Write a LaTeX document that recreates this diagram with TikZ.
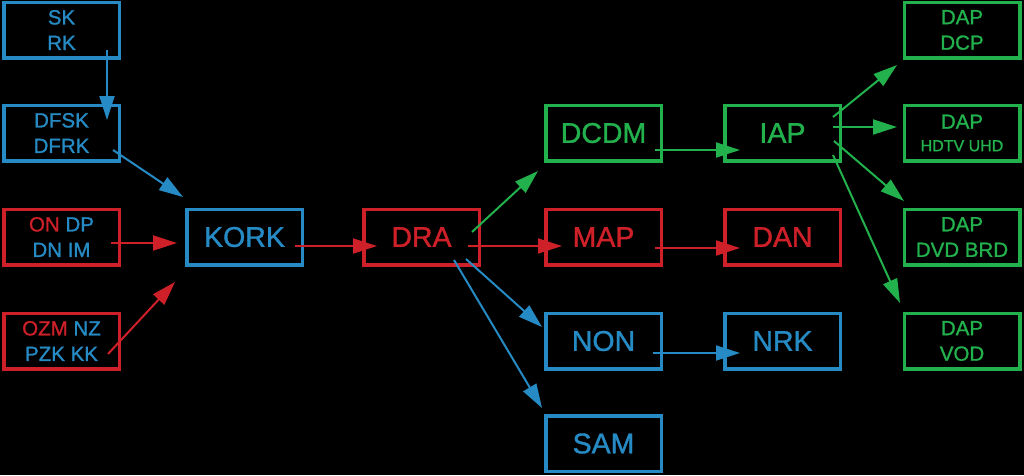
\documentclass[tikz,border=0pt]{standalone}
\usepackage{fontspec}
\setmainfont{Liberation Sans}[FakeBold=1.2]
\usetikzlibrary{arrows.meta,calc}
\definecolor{cblue}{RGB}{38,139,196}
\definecolor{cred}{RGB}{206,32,40}
\definecolor{cgreen}{RGB}{34,177,76}
\begin{document}
\begin{tikzpicture}[x=1pt,y=-1pt,
 box/.style={draw, line width=3.5pt, minimum width=115.5pt, minimum height=55.5pt, inner sep=0pt, align=center},
 big/.style={font=\fontsize{28.5}{30}\selectfont},
 small/.style={font=\fontsize{20.5}{25.5}\selectfont},
 conn/.style={line width=2pt, -{Triangle[length=24pt,width=15pt]}},
]
\fill[black] (0,0) rectangle (1024,475);
\useasboundingbox (0,0) rectangle (1024,475);
% column 1
\node[box,small,draw=cblue,text=cblue] (sk) at (61.5,30) {SK\\RK};
\node[box,small,draw=cblue,text=cblue] (dfsk) at (61.5,133) {DFSK\\DFRK};
\node[box,small,draw=cred,text=cblue] (ondp) at (61.5,237) {\textcolor{cred}{ON} DP\\DN IM};
\node[box,small,draw=cred,text=cblue] (ozm) at (61.5,341) {\textcolor{cred}{OZM} NZ\\PZK KK};
% column 2-5
\node[box,big,draw=cblue,text=cblue] (kork) at (244.5,237) {KORK};
\node[box,big,draw=cred,text=cred] (dra) at (421.5,237) {DRA};
\node[box,big,draw=cgreen,text=cgreen] (dcdm) at (603.5,133) {DCDM};
\node[box,big,draw=cred,text=cred] (map) at (603.5,237) {MAP};
\node[box,big,draw=cblue,text=cblue] (non) at (603.5,341) {NON};
\node[box,big,draw=cblue,text=cblue] (sam) at (603.5,443.5) {SAM};
\node[box,big,draw=cgreen,text=cgreen] (iap) at (782.5,133) {IAP};
\node[box,big,draw=cred,text=cred] (dan) at (782.5,237) {DAN};
\node[box,big,draw=cblue,text=cblue] (nrk) at (782.5,341) {NRK};
% column 6
\node[box,small,draw=cgreen,text=cgreen] (dcp) at (962,30) {DAP\\DCP};
\node[box,small,draw=cgreen,text=cgreen] (hdtv) at (962,133) {DAP\\[-3pt]\fontsize{16}{20}\selectfont HDTV UHD};
\node[box,small,draw=cgreen,text=cgreen] (dvd) at (962,237) {DAP\\DVD BRD};
\node[box,small,draw=cgreen,text=cgreen] (vod) at (962,341) {DAP\\VOD};
% connectors
\draw[conn,cblue] ($(sk)+(45.5,20)$) -- ($(dfsk)+(45.5,-13)$);
\draw[conn,cblue] ($(dfsk)+(51.5,17)$) -- ($(kork)+(-61.5,-40)$);
\draw[conn,cred] ($(ondp)+(49.5,6)$) -- ($(kork)+(-67.5,6)$);
\draw[conn,cred] ($(ozm)+(46.5,13)$) -- ($(kork)+(-69.5,45)$);
\draw[conn,cred] ($(kork)+(50.5,9)$) -- ($(dra)+(-44.5,9)$);
\draw[conn,cgreen] ($(dra)+(50.5,-5)$) -- ($(dcdm)+(-65.5,38)$);
\draw[conn,cred] ($(dra)+(46.5,9)$) -- ($(map)+(-41.5,9)$);
\draw[conn,cblue] ($(dra)+(44.5,22)$) -- ($(non)+(-61.5,-14)$);
\draw[conn,cblue] ($(dra)+(32.5,23)$) -- ($(sam)+(-61.5,-35.5)$);
\draw[conn,cred] ($(map)+(51.5,11)$) -- ($(dan)+(-42.5,11)$);
\draw[conn,cgreen] ($(dcdm)+(51.5,17)$) -- ($(iap)+(-42.5,17)$);
\draw[conn,cblue] ($(non)+(49.5,12)$) -- ($(nrk)+(-42.5,12)$);
\draw[conn,cgreen] ($(iap)+(50.5,-16)$) -- ($(dcp)+(-65,35)$);
\draw[conn,cgreen] ($(iap)+(50.5,-6)$) -- ($(hdtv)+(-65,-6)$);
\draw[conn,cgreen] ($(iap)+(51.5,8)$) -- ($(dvd)+(-58,-36)$);
\draw[conn,cgreen] ($(iap)+(50.5,22)$) -- ($(vod)+(-62,-38)$);
\end{tikzpicture}
\end{document}
